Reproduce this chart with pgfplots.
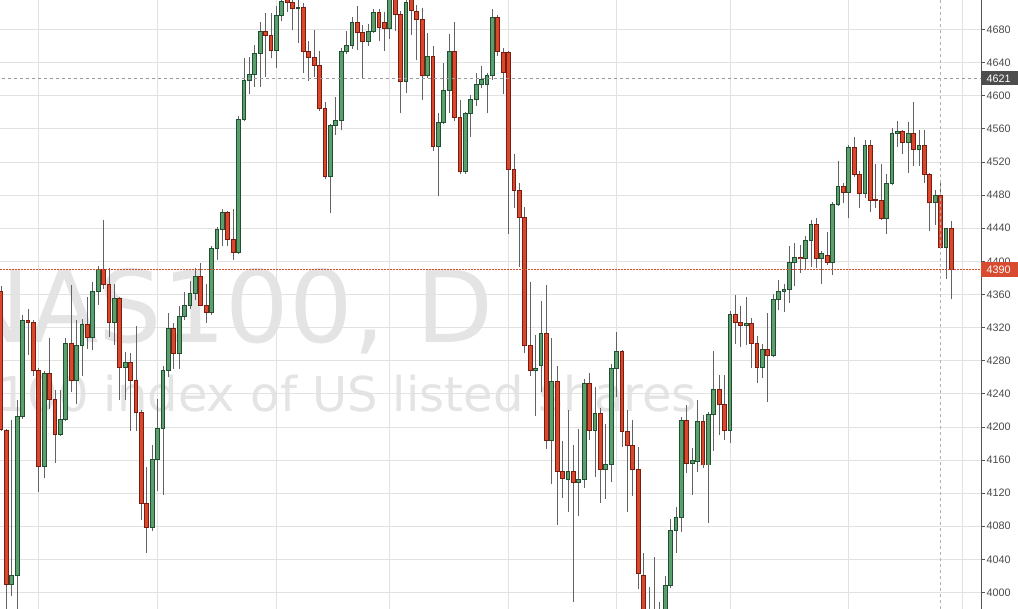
\documentclass[border=0pt]{standalone}
\usepackage{pgfplots}
\pgfplotsset{compat=1.18}
\usepackage{pgfplotstable}
\usepackage{fontspec}
\setmainfont{Liberation Sans}
\newfontfamily\wmfont{DejaVu Sans}
\definecolor{upfill}{HTML}{5C9E6E}
\definecolor{upline}{HTML}{1F5130}
\definecolor{dnfill}{HTML}{D9472C}
\definecolor{dnline}{HTML}{7C1C10}
\definecolor{wick}{HTML}{636363}
\definecolor{gridc}{HTML}{E2E2E2}
\definecolor{wmc}{HTML}{E4E4E4}
\definecolor{axc}{HTML}{555555}
\definecolor{lblc}{HTML}{4A4A4A}
\definecolor{redlbl}{HTML}{D84B31}
\definecolor{graylbl}{HTML}{4D4D4D}

\pgfplotstableread{
i o h l c
0 4364 4370 4195 4197
1 4196 4198 3978 4010
2 4010 4208 3996 4020
3 4020 4232 3978 4212
4 4212 4335 4210 4329
5 4329 4343 4287 4326
6 4326 4329 4261 4268
7 4268 4271 4121 4152
8 4152 4268 4138 4264
9 4264 4307 4222 4233
10 4233 4244 4156 4191
11 4191 4244 4189 4209
12 4209 4307 4207 4301
13 4301 4371 4242 4256
14 4256 4329 4228 4298
15 4298 4330 4261 4324
16 4324 4357 4294 4308
17 4308 4375 4293 4364
18 4364 4394 4347 4390
19 4390 4450 4367 4372
20 4372 4392 4309 4326
21 4326 4373 4299 4355
22 4355 4357 4232 4272
23 4272 4290 4232 4278
24 4278 4289 4195 4256
25 4256 4322 4195 4218
26 4218 4221 4087 4108
27 4108 4152 4048 4079
28 4079 4178 4074 4161
29 4161 4234 4123 4198
30 4198 4273 4118 4268
31 4268 4338 4260 4319
32 4319 4325 4270 4289
33 4289 4346 4270 4333
34 4333 4363 4329 4347
35 4347 4376 4342 4361
36 4361 4392 4353 4382
37 4382 4398 4346 4347
38 4347 4372 4325 4338
39 4338 4418 4335 4416
40 4416 4441 4402 4439
41 4439 4463 4418 4459
42 4459 4461 4418 4426
43 4426 4463 4402 4411
44 4411 4575 4409 4571
45 4571 4645 4569 4618
46 4618 4647 4602 4626
47 4626 4661 4611 4651
48 4651 4689 4611 4677
49 4677 4700 4623 4673
50 4673 4700 4645 4654
51 4654 4708 4634 4697
52 4697 4725 4690 4714
53 4718 4730 4701 4713
54 4713 4720 4679 4705
55 4705 4718 4664 4706
56 4706 4712 4627 4653
57 4653 4666 4618 4646
58 4646 4679 4623 4637
59 4637 4654 4582 4584
60 4584 4592 4499 4503
61 4503 4566 4458 4564
62 4564 4599 4553 4570
63 4570 4658 4558 4653
64 4653 4678 4650 4661
65 4661 4695 4656 4689
66 4689 4708 4655 4676
67 4676 4685 4621 4665
68 4665 4686 4660 4678
69 4678 4705 4676 4700
70 4700 4705 4666 4682
71 4689 4701 4654 4681
72 4681 4722 4669 4717
73 4717 4722 4678 4698
74 4698 4702 4579 4617
75 4617 4722 4603 4712
76 4716 4722 4673 4703
77 4702 4709 4643 4692
78 4692 4706 4595 4624
79 4624 4676 4621 4647
80 4647 4660 4533 4539
81 4539 4579 4479 4568
82 4568 4640 4566 4606
83 4606 4674 4579 4653
84 4653 4689 4569 4574
85 4574 4595 4506 4508
86 4508 4580 4506 4578
87 4578 4601 4550 4595
88 4595 4628 4588 4614
89 4614 4636 4609 4620
90 4613 4627 4579 4624
91 4624 4705 4619 4695
92 4695 4697 4648 4653
93 4652 4658 4602 4628
94 4652 4654 4433 4511
95 4511 4529 4464 4486
96 4486 4495 4393 4453
97 4453 4465 4289 4298
98 4298 4375 4262 4268
99 4268 4311 4213 4271
100 4274 4352 4242 4313
101 4313 4371 4173 4183
102 4183 4307 4131 4255
103 4255 4274 4082 4146
104 4146 4183 4114 4138
105 4137 4221 4097 4146
106 4146 4178 3988 4133
107 4133 4197 4092 4137
108 4137 4258 4126 4252
109 4252 4265 4184 4196
110 4196 4248 4140 4216
111 4216 4223 4108 4149
112 4149 4204 4113 4155
113 4155 4276 4133 4271
114 4271 4315 4236 4291
115 4291 4293 4176 4194
116 4194 4220 4097 4177
117 4177 4208 4116 4148
118 4148 4176 4004 4023
119 4020 4048 3930 3955
120 3960 4007 3930 3950
121 3950 4043 3935 3965
122 3965 3989 3940 3972
123 3972 4020 3965 4008
124 4008 4089 4005 4075
125 4075 4103 4048 4091
126 4091 4212 4073 4208
127 4208 4227 4144 4156
128 4156 4174 4118 4159
129 4158 4232 4146 4207
130 4207 4214 4150 4154
131 4154 4218 4084 4215
132 4215 4292 4171 4245
133 4245 4263 4190 4227
134 4227 4263 4184 4196
135 4196 4340 4180 4336
136 4336 4359 4300 4326
137 4326 4346 4296 4323
138 4323 4357 4299 4325
139 4325 4332 4271 4301
140 4301 4310 4253 4272
141 4272 4300 4259 4294
142 4294 4337 4230 4286
143 4286 4361 4284 4354
144 4354 4378 4341 4363
145 4363 4372 4339 4366
146 4366 4418 4350 4398
147 4398 4422 4370 4405
148 4405 4420 4386 4403
149 4403 4431 4389 4425
150 4425 4450 4393 4445
151 4445 4452 4392 4403
152 4403 4412 4373 4409
153 4407 4436 4396 4398
154 4398 4472 4384 4469
155 4469 4521 4467 4490
156 4490 4494 4470 4483
157 4483 4540 4452 4538
158 4538 4550 4502 4505
159 4505 4509 4464 4482
160 4482 4546 4476 4540
161 4540 4547 4459 4474
162 4475 4518 4464 4474
163 4474 4518 4450 4452
164 4452 4505 4433 4494
165 4494 4561 4492 4554
166 4554 4569 4538 4557
167 4557 4559 4529 4543
168 4543 4568 4507 4554
169 4554 4592 4515 4535
170 4535 4559 4515 4540
171 4540 4559 4495 4505
172 4505 4507 4437 4471
173 4471 4486 4444 4479
174 4479 4498 4415 4417
175 4417 4440 4379 4440
176 4440 4449 4354 4390
}\ohlc

\begin{document}
\begin{tikzpicture}
\useasboundingbox (0,0) rectangle (1018pt,609pt);
\fill[white] (0,0) rectangle (1018pt,609pt);
\begin{scope}
\clip (0,0) rectangle (981pt,609pt);
\node[anchor=base east, text=wmc, font=\wmfont\fontsize{100}{100}\selectfont, inner sep=0pt] at (494pt,266pt) {NAS100, D};
\node[anchor=base east, text=wmc, font=\wmfont\fontsize{48}{48}\selectfont, inner sep=0pt] at (697pt,197pt) {Nasdaq 100 index of US listed shares};
\end{scope}
\begin{axis}[
  at={(0,0)}, anchor=south west,
  scale only axis, width=981pt, height=609pt,
  xmin=-0.185, xmax=181.48, ymin=3980.1, ymax=4715.6,
  axis line style={draw=none},
  xtick={7,29,51,72,94,114,135,157,178}, xticklabels={},
  xtick style={draw=none},
  ytick={4000,4040,...,4680},
  ytick pos=right, yticklabel pos=right,
  tick align=outside, major tick length=4pt,
  ytick style={draw=axc, line width=0.8pt},
  yticklabel style={font=\fontsize{10.8}{12}\selectfont, text=lblc, anchor=west, inner sep=0pt, xshift=1.5pt},
  /pgf/number format/1000 sep={},
  /pgf/number format/assume math mode=true,
  xmajorgrids, ymajorgrids,
  grid style={gridc, line width=0.8pt},
]
% wicks
\addplot[wick, line width=0.9pt, mark=none, quiver={u=0, v={\thisrow{h}-\thisrow{l}}}] table[x=i, y=l] {\ohlc};
% up bodies
\addplot[upline, line width=4.7pt, mark=none, quiver={u=0, v={\thisrow{c}-\thisrow{o}+1.2}},
  restrict expr to domain={\thisrow{c}-\thisrow{o}}{0:1000}] table[x=i, y expr=\thisrow{o}-0.6] {\ohlc};
\addplot[upfill, line width=2.7pt, mark=none, quiver={u=0, v={max(\thisrow{c}-\thisrow{o}-1.2,0)}},
  restrict expr to domain={\thisrow{c}-\thisrow{o}}{0:1000}] table[x=i, y expr=\thisrow{o}+0.6] {\ohlc};
% down bodies
\addplot[dnline, line width=4.7pt, mark=none, quiver={u=0, v={\thisrow{o}-\thisrow{c}+1.2}},
  restrict expr to domain={\thisrow{c}-\thisrow{o}}{-1000:0}] table[x=i, y expr=\thisrow{c}-0.6] {\ohlc};
\addplot[dnfill, line width=2.7pt, mark=none, quiver={u=0, v={max(\thisrow{o}-\thisrow{c}-1.2,0)}},
  restrict expr to domain={\thisrow{c}-\thisrow{o}}{-1000:0}] table[x=i, y expr=\thisrow{c}+0.6] {\ohlc};
% price lines
\draw[black!40, line width=0.8pt, dash pattern=on 3pt off 3pt] (axis cs:-1,4621) -- (axis cs:182,4621);
\draw[black!30, line width=0.8pt, dash pattern=on 3pt off 3pt] (axis cs:174,3900) -- (axis cs:174,4800);
\coordinate (p4390) at (axis cs:181.48,4390);
\coordinate (p4390l) at (axis cs:-0.185,4390);
\coordinate (p4621) at (axis cs:181.48,4621);
\end{axis}
\draw[draw=redlbl, line width=1pt, dash pattern=on 2pt off 1pt] (p4390l) -- (p4390);
\draw[axc, line width=1pt] (981pt,0) -- (981pt,609pt);
\fill[redlbl] (p4390) ++(0,-7.5pt) rectangle ++(37pt,15pt);
\node[anchor=west, text=white, inner sep=0pt, font=\fontsize{10.8}{12}\selectfont] at ([xshift=5.5pt]p4390) {4390};
\fill[graylbl] (p4621) ++(0,-7pt) rectangle ++(37pt,14pt);
\node[anchor=west, text=white, inner sep=0pt, font=\fontsize{10.8}{12}\selectfont] at ([xshift=5.5pt]p4621) {4621};
\end{tikzpicture}
\end{document}
